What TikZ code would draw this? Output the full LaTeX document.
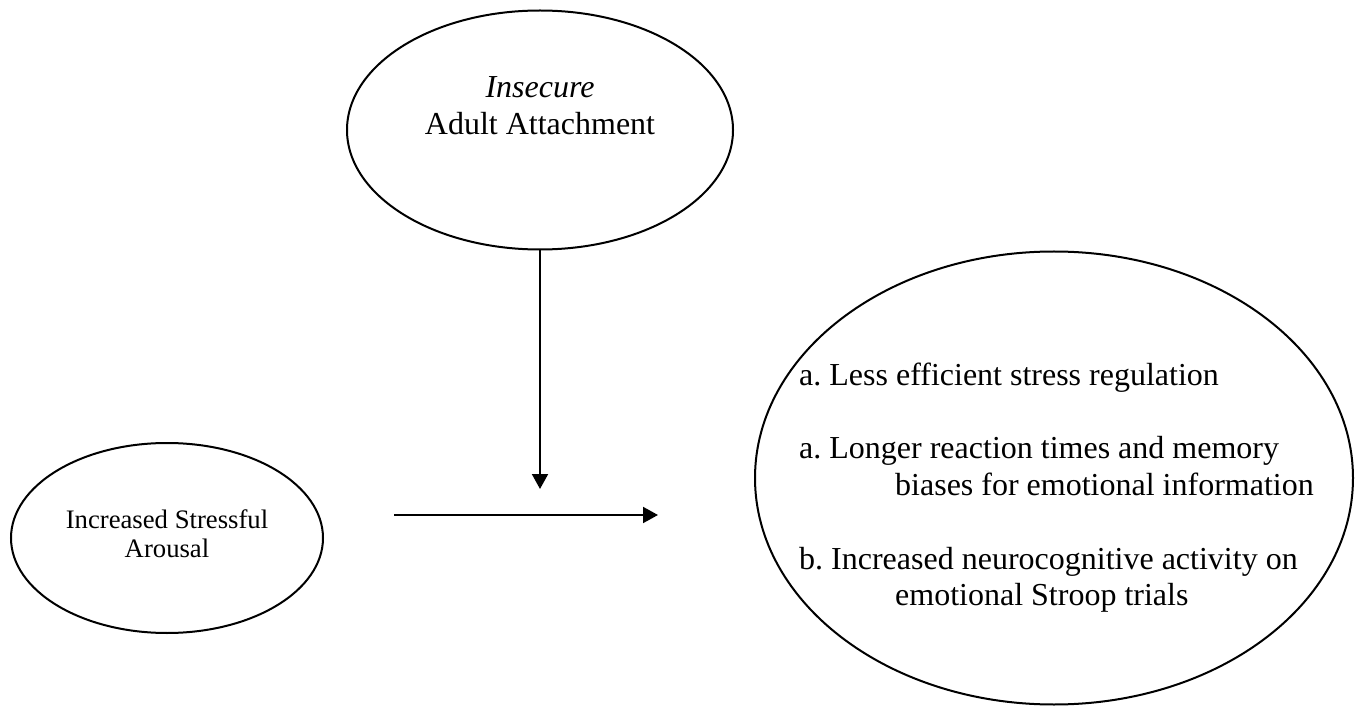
\documentclass[tikz,border=0pt]{standalone}
\usepackage{fontspec}
\setmainfont{Liberation Serif}
\usetikzlibrary{shapes.geometric,arrows.meta}
\frenchspacing
\tikzset{
  oval/.style={draw=black, line width=2pt, ellipse, inner sep=0pt},
  bigtxt/.style={font=\fontsize{32}{36.8}\selectfont, inner sep=0pt, anchor=base west},
  ctxt/.style={font=\fontsize{32}{36.8}\selectfont, inner sep=0pt, anchor=base},
  smalltxt/.style={font=\fontsize{26.7}{30.7}\selectfont, inner sep=0pt, anchor=base},
  conn/.style={line width=2pt, -{Triangle[length=15pt,width=16pt]}}
}
\begin{document}
\begin{tikzpicture}[x=1pt,y=-1pt]
\useasboundingbox (0,0) rectangle (1361,711);
% ellipses
\node[oval, minimum width=386pt, minimum height=239pt] (att) at (540,130) {};
\node[oval, minimum width=312pt, minimum height=190pt] (arous) at (167,538) {};
\node[oval, minimum width=598pt, minimum height=453pt] (out) at (1054,478) {};
% texts
\node[ctxt] (t1) at (540,98) {\itshape Insecure};
\node[ctxt] (t2) at (540,135) {Adult Attachment};
\node[smalltxt] (s1) at (167,528) {Increased Stressful};
\node[smalltxt] (s2) at (167,557) {Arousal};
\node[bigtxt] (o1) at (799,385) {\frenchspacing a. Less efficient stress regulation};
\node[bigtxt] (o2) at (799,458.6) {\frenchspacing a. Longer reaction times and memory};
\node[bigtxt] (o3) at (895,495.4) {biases for emotional information};
\node[bigtxt] (o4) at (799,569) {\frenchspacing b. Increased neurocognitive activity on};
\node[bigtxt] (o5) at (895,605.8) {emotional Stroop trials};
% connectors
\coordinate (vtip) at (540,489);
\coordinate (hstart) at (394,515);
\coordinate (hend) at (658,515);
\draw[conn] (att.south) -- (vtip);
\draw[conn] (hstart) -- (hend);
\end{tikzpicture}
\end{document}
